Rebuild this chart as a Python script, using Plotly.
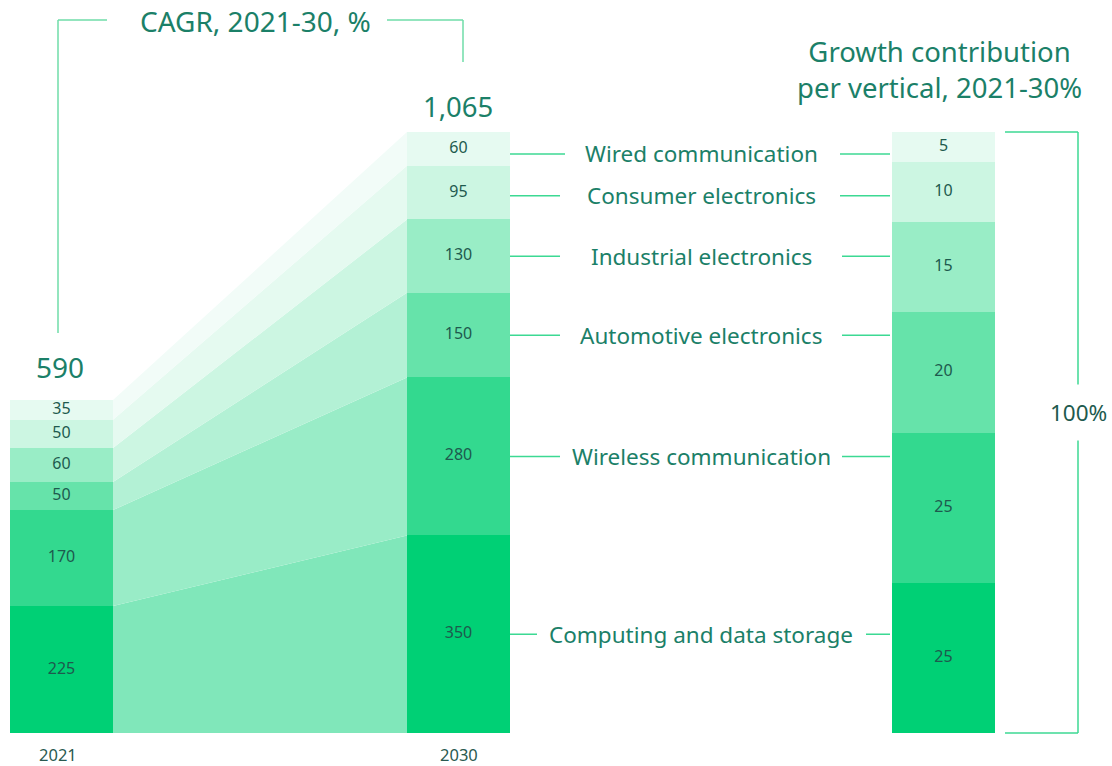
import plotly.graph_objects as go

# ---------------- data ----------------
verticals = ["Computing and data storage", "Wireless communication", "Automotive electronics",
             "Industrial electronics", "Consumer electronics", "Wired communication"]
year_labels = ["2021", "2030"]
values_2021 = [225, 170, 50, 60, 50, 35]
values_2030 = [350, 280, 150, 130, 95, 60]
growth_share = [25, 25, 20, 15, 10, 5]
total_2021 = 590
total_2030 = 1065
title_left = "CAGR, 2021-30, %"
title_right = "Growth contribution<br>per vertical, 2021-30%"
share_total_label = "100%"

# ---------------- style / layout ----------------
bar_colors = ["#00D075", "#33D98F", "#66E3AA", "#99EDC6", "#CCF6E2", "#E6FAF1"]
band_colors = ["#80E7BA", "#99ECC7", "#B3F1D5", "#CCF6E2", "#E5FAF0", "#F2FCF8"]
TXT = "#1B8068"
VAL = "#1E5A4E"
LINE = "#3CD993"
FONT = "Noto Sans"

W, H = 1112, 766
X21, X30, XG = 61.5, 458.5, 943.5
BW = 103
Y0 = 733.0
PXU = 601.0 / total_2030          # pixels per unit
Y_TOP = Y0 / PXU
Y_BOT = -(H - Y0) / PXU


def py(p):
    """page pixel row -> y data value"""
    return (Y0 - p) / PXU


share_scale = total_2030 / 100.0
growth_h = [g * share_scale for g in growth_share]


def cum(vals):
    out, s = [0], 0
    for v in vals:
        s += v
        out.append(s)
    return out


c21, c30, cg = cum(values_2021), cum(values_2030), cum(growth_h)

fig = go.Figure()

# bands between 2021 and 2030 bars
for i in range(len(verticals)):
    xa, xb = X21 + BW / 2, X30 - BW / 2
    fig.add_trace(go.Scatter(
        x=[xa, xb, xb, xa, xa],
        y=[c21[i], c30[i], c30[i + 1], c21[i + 1], c21[i]],
        fill="toself", fillcolor=band_colors[i], mode="lines",
        line=dict(width=0), hoverinfo="skip", showlegend=False))

# stacked bars
for i, name in enumerate(verticals):
    fig.add_trace(go.Bar(
        x=[X21, X30, XG], y=[values_2021[i], values_2030[i], growth_h[i]],
        width=BW, marker=dict(color=bar_colors[i], line=dict(width=0)),
        name=name, showlegend=False, hoverinfo="skip"))

# value labels
lx, ly, lt = [], [], []
for i in range(len(verticals)):
    lx += [X21, X30, XG]
    ly += [(c21[i] + c21[i + 1]) / 2, (c30[i] + c30[i + 1]) / 2, (cg[i] + cg[i + 1]) / 2]
    lt += [str(values_2021[i]), str(values_2030[i]), str(growth_share[i])]
fig.add_trace(go.Scatter(x=lx, y=ly, text=lt, mode="text",
                         textfont=dict(family=FONT, size=16, color=VAL),
                         hoverinfo="skip", showlegend=False))

shapes = []
annotations = []

# middle labels with connector lines
label_left_end = [537, 560, 560, 560, 560, 565]
label_right_end = [866, 842, 842, 842, 840, 840]
LABEL_X = 701
for i, name in enumerate(verticals):
    ym = (c30[i] + c30[i + 1]) / 2
    if i == len(verticals) - 1:
        ym -= 5 / PXU
    if i == len(verticals) - 2:
        ym -= 3 / PXU
    annotations.append(dict(x=LABEL_X, y=ym, text=name, showarrow=False,
                            font=dict(family=FONT, size=22.5, color=TXT)))
    shapes.append(dict(type="line", x0=X30 + BW / 2, x1=label_left_end[i], y0=ym, y1=ym,
                       line=dict(color=LINE, width=1.5)))
    shapes.append(dict(type="line", x0=label_right_end[i], x1=XG - BW / 2 - 2, y0=ym, y1=ym,
                       line=dict(color=LINE, width=1.5)))

# totals
annotations.append(dict(x=X21 - 2, y=total_2021, yshift=12, yanchor="bottom", text=f"{total_2021:,}",
                        showarrow=False, font=dict(family=FONT, size=28, color=TXT)))
annotations.append(dict(x=X30 - 1, y=total_2030, yshift=5, yanchor="bottom", text=f"{total_2030:,}",
                        showarrow=False, font=dict(family=FONT, size=27.5, color=TXT)))

# CAGR bracket
BR = "#6FDCA9"
shapes += [
    dict(type="line", x0=58, x1=58, y0=py(333), y1=py(20), line=dict(color=BR, width=1.5)),
    dict(type="line", x0=58, x1=107, y0=py(20), y1=py(20), line=dict(color=BR, width=1.5)),
    dict(type="line", x0=387, x1=463, y0=py(20), y1=py(20), line=dict(color=BR, width=1.5)),
    dict(type="line", x0=463, x1=463, y0=py(20), y1=py(62), line=dict(color=BR, width=1.5)),
]
annotations.append(dict(x=255, y=py(21), text=title_left, showarrow=False,
                        font=dict(family=FONT, size=28, color=TXT)))

# right title
annotations.append(dict(x=939, y=py(69), text=title_right, showarrow=False,
                        font=dict(family=FONT, size=27.5, color=TXT)))

# 100% bracket
shapes += [
    dict(type="line", x0=1005, x1=1078, y0=total_2030, y1=total_2030, line=dict(color=LINE, width=1.5)),
    dict(type="line", x0=1078, x1=1078, y0=total_2030, y1=0, line=dict(color=LINE, width=1.5)),
    dict(type="line", x0=1005, x1=1078, y0=0, y1=0, line=dict(color=LINE, width=1.5)),
]
annotations.append(dict(x=1078, y=total_2030 / 2 + 20 / PXU, text=share_total_label, showarrow=False,
                        bgcolor="white", borderpad=12,
                        font=dict(family=FONT, size=22.5, color=VAL)))

# year labels
for xx, lab in zip([X21 - 4, X30], year_labels):
    annotations.append(dict(x=xx, y=py(754), text=lab, showarrow=False, borderpad=0,
                            font=dict(family=FONT, size=16.5, color="#2A5A50")))

fig.update_layout(
    width=W, height=H, margin=dict(l=0, r=0, t=0, b=0),
    paper_bgcolor="white", plot_bgcolor="white",
    barmode="stack", bargap=0,
    xaxis=dict(range=[0, W], visible=False, fixedrange=True),
    yaxis=dict(range=[Y_BOT, Y_TOP], visible=False, fixedrange=True),
    shapes=shapes, annotations=annotations, showlegend=False,
)

fig.write_html("out.html")
